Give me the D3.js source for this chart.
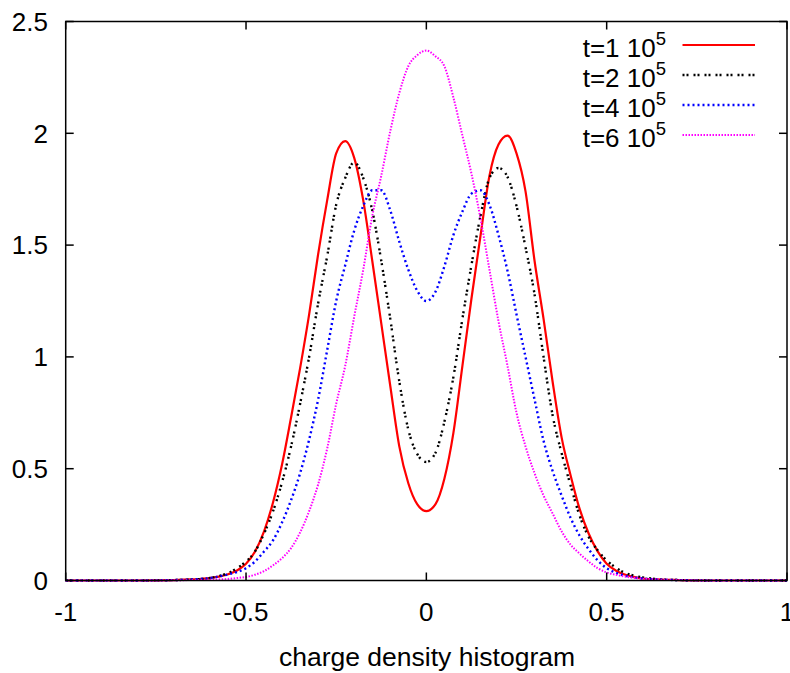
<!DOCTYPE html>
<html>
<head>
<meta charset="utf-8">
<script src="https://cdn.jsdelivr.net/npm/d3@7"></script>
<style>
  body { margin: 0; background: white; }
  svg { display: block; }
  text { font-family: "Liberation Sans", Arial, sans-serif; fill: black; }
</style>
</head>
<body>
<div id="chart"></div>
<script>
const xGrid = [-1, -0.8, -0.7, -0.65, -0.6, -0.575, -0.55, -0.525, -0.5, -0.475, -0.45, -0.425,
    -0.4, -0.375, -0.35, -0.325, -0.3, -0.275, -0.25, -0.225, -0.2, -0.175, -0.15, -0.125,
    -0.1, -0.075, -0.05, -0.025, 0, 0.025, 0.05, 0.075, 0.1, 0.125, 0.15, 0.175, 0.2, 0.225,
    0.25, 0.275, 0.3, 0.325, 0.35, 0.375, 0.4, 0.425, 0.45, 0.475, 0.5, 0.525, 0.55, 0.575,
    0.6, 0.65, 0.7, 0.8, 1];

const t1 = [0, 0, 0.002, 0.005, 0.011, 0.017, 0.028, 0.045, 0.075, 0.13, 0.22, 0.35,
    0.52, 0.73, 0.95, 1.19, 1.46, 1.70, 1.91, 1.965, 1.89, 1.70, 1.43, 1.15,
    0.87, 0.60, 0.435, 0.34, 0.31, 0.34, 0.455, 0.66, 0.96, 1.26, 1.54, 1.81, 1.95, 1.99,
    1.91, 1.74, 1.43, 1.17, 0.89, 0.64, 0.47, 0.32, 0.21, 0.13, 0.075, 0.045, 0.027, 0.016,
    0.009, 0.004, 0.002, 0, 0];

const t2 = [0, 0, 0.002, 0.004, 0.011, 0.02, 0.033, 0.055, 0.085, 0.13, 0.21, 0.31,
    0.44, 0.60, 0.79, 1.00, 1.24, 1.45, 1.68, 1.80, 1.87, 1.80, 1.655, 1.43,
    1.17, 0.89, 0.675, 0.565, 0.53, 0.57, 0.71, 0.91, 1.17, 1.41, 1.63, 1.80, 1.845, 1.805,
    1.675, 1.49, 1.28, 1.00, 0.74, 0.57, 0.425, 0.29, 0.195, 0.135, 0.09, 0.058, 0.035, 0.022,
    0.014, 0.005, 0.002, 0, 0];

const t4 = [0, 0, 0.002, 0.005, 0.011, 0.018, 0.027, 0.038, 0.055, 0.085, 0.13, 0.18,
    0.26, 0.36, 0.48, 0.63, 0.81, 1.03, 1.25, 1.41, 1.565, 1.675, 1.745, 1.745,
    1.655, 1.515, 1.39, 1.295, 1.25, 1.29, 1.405, 1.545, 1.65, 1.73, 1.745, 1.68, 1.545, 1.385,
    1.19, 1.00, 0.81, 0.625, 0.49, 0.38, 0.28, 0.2, 0.14, 0.09, 0.055, 0.035, 0.022, 0.014,
    0.009, 0.004, 0.002, 0, 0];

const t6 = [0, 0, 0.001, 0.002, 0.003, 0.005, 0.007, 0.011, 0.016, 0.026, 0.042, 0.068,
    0.10, 0.145, 0.215, 0.31, 0.43, 0.59, 0.79, 0.96, 1.18, 1.39, 1.63, 1.81,
    2.01, 2.18, 2.30, 2.35, 2.37, 2.345, 2.30, 2.16, 1.99, 1.82, 1.62, 1.39, 1.16, 0.96,
    0.75, 0.60, 0.48, 0.38, 0.30, 0.22, 0.16, 0.12, 0.085, 0.055, 0.036, 0.026, 0.018, 0.012,
    0.008, 0.004, 0.002, 0, 0];

const seriesLabels = ["t=1 10", "t=2 10", "t=4 10", "t=6 10"];
const seriesExp = ["5", "5", "5", "5"];

const xTicks = [-1, -0.5, 0, 0.5, 1];
const yTicks = [0, 0.5, 1, 1.5, 2, 2.5];
const xTitle = "charge density histogram";

const styles = [
    { color: "#ff0000", dash: null, w: 2.2 },
    { color: "#000000", dash: "2,2,2,5", w: 2.4 },
    { color: "#0000ff", dash: "2,3", w: 2.4 },
    { color: "#ff00ff", dash: "1.5,1.5", w: 2 }
];

const width = 790;
const height = 673;

const svg = d3.select("#chart")
    .append("svg")
    .attr("width", width)
    .attr("height", height);

const x = d3.scaleLinear()
    .domain([-1, 1])
    .range([65.7, 787]);

const y = d3.scaleLinear()
    .domain([0, 2.5])
    .range([580.5, 21.5]);

const x0 = x.range()[0], x1 = x.range()[1];
const y0 = y.range()[0], y1 = y.range()[1];
const tick = 8;

// curves
const line = d3.line()
    .x(d => x(d[0]))
    .y(d => y(d[1]))
    .curve(d3.curveMonotoneX);

[t1, t2, t4, t6].forEach((vals, i) => {
    const pts = xGrid.map((xv, j) => [xv, vals[j]]);
    svg.append("path")
        .datum(pts)
        .attr("d", line)
        .attr("fill", "none")
        .attr("stroke", styles[i].color)
        .attr("stroke-width", styles[i].w)
        .attr("stroke-dasharray", styles[i].dash);
});

// frame
const frame = svg.append("g")
    .attr("stroke", "black")
    .attr("stroke-width", 1.5)
    .attr("fill", "none");

frame.append("rect")
    .attr("x", x0)
    .attr("y", y1)
    .attr("width", x1 - x0)
    .attr("height", y0 - y1);

// mirrored ticks pointing in
xTicks.forEach(t => {
    frame.append("line")
        .attr("x1", x(t)).attr("x2", x(t))
        .attr("y1", y0).attr("y2", y0 - tick);
    frame.append("line")
        .attr("x1", x(t)).attr("x2", x(t))
        .attr("y1", y1).attr("y2", y1 + tick);
});

yTicks.forEach(t => {
    frame.append("line")
        .attr("x1", x0).attr("x2", x0 + tick)
        .attr("y1", y(t)).attr("y2", y(t));
    frame.append("line")
        .attr("x1", x1).attr("x2", x1 - tick)
        .attr("y1", y(t)).attr("y2", y(t));
});

// tick labels
svg.append("g")
    .selectAll("text")
    .data(xTicks)
    .enter()
    .append("text")
    .attr("x", d => x(d))
    .attr("y", 621)
    .attr("text-anchor", "middle")
    .attr("font-size", 26)
    .text(d => d);

svg.append("g")
    .selectAll("text")
    .data(yTicks)
    .enter()
    .append("text")
    .attr("x", 48)
    .attr("y", d => y(d) + 9.3)
    .attr("text-anchor", "end")
    .attr("font-size", 26)
    .text(d => d);

svg.append("text")
    .attr("x", 427)
    .attr("y", 666)
    .attr("text-anchor", "middle")
    .attr("font-size", 26.5)
    .text(xTitle);

// key
seriesLabels.forEach((lab, i) => {
    const by = 56.5 + i * 30;

    const t = svg.append("text")
        .attr("x", 666)
        .attr("y", by)
        .attr("text-anchor", "end")
        .attr("font-size", 26);
    t.append("tspan").text(lab);
    t.append("tspan")
        .attr("dy", -12)
        .attr("font-size", 18.5)
        .text(seriesExp[i]);

    svg.append("line")
        .attr("x1", 682.5)
        .attr("x2", 755)
        .attr("y1", by - 11.5)
        .attr("y2", by - 11.5)
        .attr("stroke", styles[i].color)
        .attr("stroke-width", styles[i].w)
        .attr("stroke-dasharray", styles[i].dash);
});
</script>
</body>
</html>
